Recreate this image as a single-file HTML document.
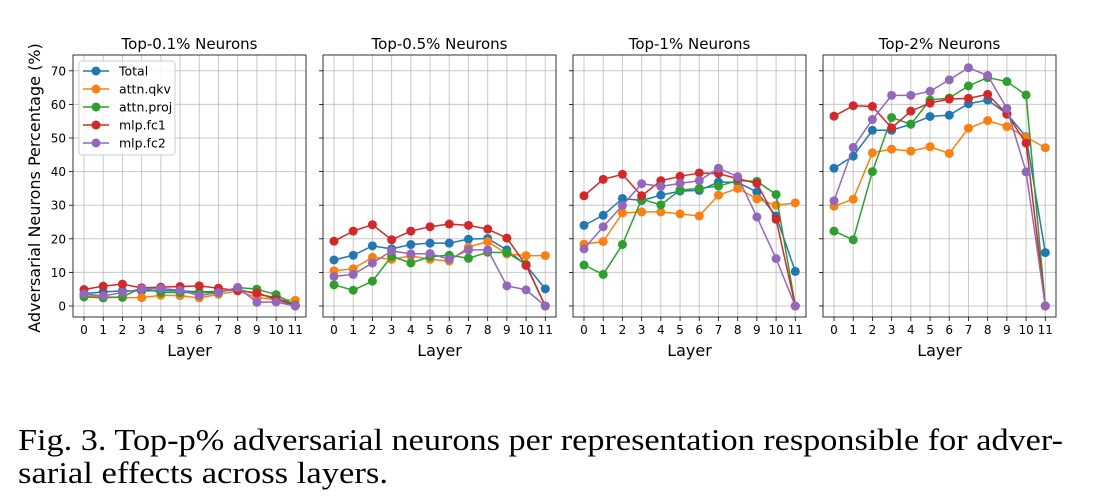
<!DOCTYPE html>
<html><head><meta charset="utf-8">
<style>
html,body{margin:0;padding:0;background:#fff;}
svg{display:block;}
text{font-family:"DejaVu Sans","Liberation Sans",sans-serif;}
</style></head>
<body>
<svg id="fig" width="1093" height="503" viewBox="0 0 1093 503" xmlns="http://www.w3.org/2000/svg">
<text x="18" y="450" font-size="31" style="font-family:'Liberation Serif',serif" textLength="1045" lengthAdjust="spacingAndGlyphs">Fig. 3.  Top-p% adversarial neurons per representation responsible for adver-</text>
<text x="18" y="483" font-size="31" style="font-family:'Liberation Serif',serif" textLength="370" lengthAdjust="spacingAndGlyphs">sarial effects across layers.</text>
</svg>
<script>
const layers=[0,1,2,3,4,5,6,7,8,9,10,11];
const yTicks=[0,10,20,30,40,50,60,70];
const panelTitles=["Top-0.1% Neurons","Top-0.5% Neurons","Top-1% Neurons","Top-2% Neurons"];
const seriesNames=["Total","attn.qkv","attn.proj","mlp.fc1","mlp.fc2"];
const seriesColors=["#1f77b4","#ff7f0e","#2ca02c","#d62728","#9467bd"];
const p1Total=[3.7,4.2,4.5,4.5,4.6,4.5,4.2,4.3,5.0,3.5,2.5,0.2];
const p1Qkv=[3.0,2.8,2.5,2.5,3.2,3.1,2.4,3.5,4.5,2.5,2.0,1.7];
const p1Proj=[2.7,2.4,2.7,5.4,4.0,4.0,4.0,4.0,5.5,5.0,3.4,0.3];
const p1Fc1=[4.9,5.9,6.5,5.4,5.6,5.8,6.0,5.3,4.6,3.9,2.0,0];
const p1Fc2=[3.6,3.0,4.0,5.1,5.2,4.7,3.1,4.0,5.5,1.1,1.2,0];
const p2Total=[13.7,15.1,17.9,17.0,18.3,18.7,18.7,19.9,20.1,16.7,12.1,5.1];
const p2Qkv=[10.5,11.1,14.5,13.9,14.9,13.9,13.4,17.5,19.2,15.5,15.0,15.0];
const p2Proj=[6.3,4.7,7.4,14.8,12.8,14.7,15.1,14.2,16.0,15.9,12.4,0];
const p2Fc1=[19.3,22.3,24.2,19.7,22.3,23.6,24.4,24.0,22.9,20.2,12.1,0];
const p2Fc2=[8.8,9.4,12.8,16.4,15.5,15.6,13.9,16.7,16.7,6.0,4.8,0];
const p3Total=[24.0,27.0,32.0,31.4,33.0,34.2,34.4,36.9,36.8,33.9,26.8,10.3];
const p3Qkv=[18.4,19.2,27.7,28.0,28.0,27.4,26.8,33.0,35.0,31.9,30.0,30.7];
const p3Proj=[12.2,9.4,18.3,31.8,30.1,34.5,35.0,35.7,37.3,37.1,33.2,0];
const p3Fc1=[32.8,37.7,39.2,32.8,37.3,38.6,39.6,39.4,37.9,36.5,25.8,0];
const p3Fc2=[17.0,23.6,29.9,36.4,35.6,36.5,37.3,41.0,38.5,26.5,14.1,0];
const p4Total=[41.0,44.6,52.3,52.3,54.1,56.4,56.8,60.2,61.3,57.2,50.4,15.9];
const p4Qkv=[29.7,31.8,45.6,46.7,46.1,47.4,45.4,52.9,55.2,53.4,50.3,47.1];
const p4Proj=[22.3,19.7,40.0,56.1,54.1,61.3,61.9,65.5,68.0,66.8,62.8,0];
const p4Fc1=[56.5,59.6,59.4,53.0,58.0,60.4,61.6,61.8,63.0,57.1,48.5,0];
const p4Fc2=[31.3,47.2,55.5,62.7,62.7,63.9,67.3,70.9,68.6,58.8,39.9,0];
const panels=[[p1Total,p1Qkv,p1Proj,p1Fc1,p1Fc2],[p2Total,p2Qkv,p2Proj,p2Fc1,p2Fc2],[p3Total,p3Qkv,p3Proj,p3Fc1,p3Fc2],[p4Total,p4Qkv,p4Proj,p4Fc1,p4Fc2]];

const NS="http://www.w3.org/2000/svg";
const svg=document.getElementById('fig');
function mk(tag,attrs,parent){const e=document.createElementNS(NS,tag);for(const k in attrs)e.setAttribute(k,attrs[k]);(parent||svg).appendChild(e);return e;}
const axTop=55,axBot=317,y0px=306,yPer10=33.6;
function yScale(v){return y0px-v*yPer10/10;}
panels.forEach((series,pi)=>{
  const left=73+pi*250,right=left+233;
  const xScale=i=>left+11+i*(211.3/11);
  const g=mk('g',{});
  
  
  layers.forEach(l=>{const ln=mk('line',{x1:xScale(l),x2:xScale(l),y1:axTop,y2:axBot,stroke:'#b0b0b0','stroke-width':1,'stroke-opacity':0.7},g);
    
    mk('line',{x1:xScale(l),x2:xScale(l),y1:axBot,y2:axBot+4,stroke:'#000','stroke-width':0.8},g);
    const t=mk('text',{x:xScale(l),y:axBot+17,'font-size':12,'text-anchor':'middle'},g);t.textContent=l;
    });
  yTicks.forEach(v=>{const ln=mk('line',{x1:left,x2:right,y1:yScale(v),y2:yScale(v),stroke:'#b0b0b0','stroke-width':1,'stroke-opacity':0.7},g);
    
    mk('line',{x1:left-4,x2:left,y1:yScale(v),y2:yScale(v),stroke:'#000','stroke-width':0.8},g);
    if(pi===0){const t=mk('text',{x:left-7,y:yScale(v)+4.5,'font-size':12,'text-anchor':'end'},g);t.textContent=v;
      }});
  series.forEach((vals,si)=>{
    const pts=vals.map((v,i)=>xScale(i)+','+yScale(v)).join(' ');
    const pl=mk('polyline',{points:pts,fill:'none',stroke:seriesColors[si],'stroke-width':1.5},g);
    
    
    vals.forEach((v,i)=>{const c=mk('circle',{cx:xScale(i),cy:yScale(v),r:4.5,fill:seriesColors[si]},g);
      
      });
  });
  const fr=mk('rect',{x:left,y:axTop,width:233,height:axBot-axTop,fill:'none',stroke:'#000','stroke-width':0.8},g);
  
  const tt=mk('text',{x:left+116.5,y:49,'font-size':15,'text-anchor':'middle'},g);tt.textContent=panelTitles[pi];
  
  const xl=mk('text',{x:left+116.5,y:356,'font-size':16,'text-anchor':'middle'},g);xl.textContent='Layer';
  
});
const yl=mk('text',{x:0,y:0,'font-size':16,'text-anchor':'middle',transform:'translate(40,188) rotate(-90)'});
yl.textContent='Adversarial Neurons Percentage (%)';


const lg=mk('g',{});


mk('rect',{x:79,y:61,width:96,height:94,rx:3,fill:'#fff','fill-opacity':0.85,stroke:'#ccc','stroke-width':1},lg);
seriesNames.forEach((n,i)=>{const y=71+i*18;
  mk('line',{x1:83,x2:109,y1:y,y2:y,stroke:seriesColors[i],'stroke-width':1.5},lg);
  mk('circle',{cx:96,cy:y,r:4.5,fill:seriesColors[i]},lg);
  const t=mk('text',{x:119,y:y+4.5,'font-size':12.5},lg);t.textContent=n;
  
  });
</script>
</body></html>
